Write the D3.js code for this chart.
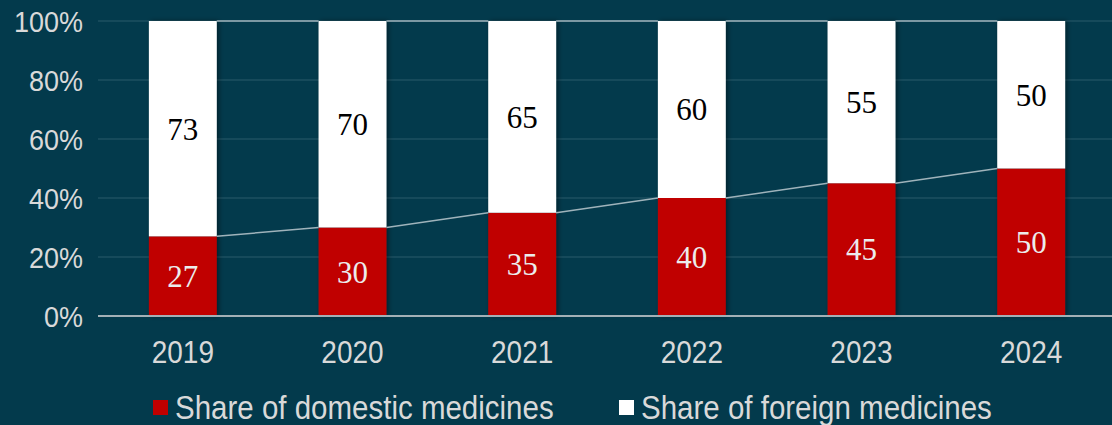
<!DOCTYPE html>
<html lang="en">
<head>
<meta charset="UTF-8">
<title>Medicines share</title>
<script src="https://d3js.org/d3.v7.min.js"></script>
<style>
  html, body { margin: 0; padding: 0; background: #033a4c; }
</style>
</head>
<body>
<div id="chart"></div>
<script>
    // data
    var years = ["2019", "2020", "2021", "2022", "2023", "2024"];
    var domestic = [27, 30, 35, 40, 45, 50];
    var foreign = [73, 70, 65, 60, 55, 50];
    var yTicks = [0, 20, 40, 60, 80, 100];
    var seriesNames = ["Share of domestic medicines", "Share of foreign medicines"];

    var W = 1112, H = 425;
    var bg = "#033a4c", red = "#c00000", textCol = "#d9d9d9";
    var sans = "'Liberation Sans', Arial, sans-serif";

    var svg = d3.select("#chart").append("svg")
        .attr("width", W).attr("height", H)
        .style("display", "block");

    svg.append("rect").attr("width", W).attr("height", H).attr("fill", bg);

    var defs = svg.append("defs");
    var f = defs.append("filter").attr("id", "shadow")
        .attr("x", "-20%").attr("y", "-5%").attr("width", "140%").attr("height", "110%");
    f.append("feDropShadow").attr("dx", 2).attr("dy", 0).attr("stdDeviation", 2.5)
        .attr("flood-color", "#000").attr("flood-opacity", 0.45);

    var x = d3.scaleBand().domain(years).range([98, 1116]).paddingInner(0.6).paddingOuter(0.3);
    var y = d3.scaleLinear().domain([0, 100]).range([316, 21]);

    // gridlines
    svg.append("g").selectAll("line").data(yTicks.filter(function(d) { return d > 0; }))
        .enter().append("line")
        .attr("x1", 98).attr("x2", W)
        .attr("y1", function(d) { return y(d); }).attr("y2", function(d) { return y(d); })
        .attr("stroke", "#2b5a6b").attr("stroke-width", 1.2);

    // y axis labels (the source font is a bit taller than Liberation Sans, hence the stretch)
    var yAxis = svg.append("g").attr("transform", "translate(83,0)")
        .call(d3.axisLeft(y).tickValues(yTicks).tickSize(0).tickPadding(0)
            .tickFormat(function(d) { return d + "%"; }));
    yAxis.select(".domain").remove();
    yAxis.selectAll("text")
        .attr("fill", textCol)
        .style("font-family", sans)
        .style("font-size", "27px")
        .attr("dy", "0.36em")
        .attr("transform", "scale(1,1.12)");

    // stacked bars
    var rows = years.map(function(yr, i) { return { year: yr, d: domestic[i], f: foreign[i] }; });
    var bars = svg.append("g").attr("filter", "url(#shadow)");
    bars.selectAll(".dom").data(rows).enter().append("rect")
        .attr("x", function(r) { return x(r.year); })
        .attr("width", x.bandwidth())
        .attr("y", function(r) { return y(r.d); })
        .attr("height", function(r) { return y(0) - y(r.d); })
        .attr("fill", red);
    bars.selectAll(".for").data(rows).enter().append("rect")
        .attr("x", function(r) { return x(r.year); })
        .attr("width", x.bandwidth())
        .attr("y", function(r) { return y(r.d + r.f); })
        .attr("height", function(r) { return y(r.d) - y(r.d + r.f); })
        .attr("fill", "#ffffff");

    // series lines between bars
    var sl = svg.append("g").attr("stroke", "#9fb3bb").attr("stroke-width", 1.5);
    for (var i = 0; i < rows.length - 1; i++) {
        var a = rows[i], b = rows[i + 1];
        sl.append("line")
            .attr("x1", x(a.year) + x.bandwidth()).attr("x2", x(b.year))
            .attr("y1", y(a.d)).attr("y2", y(b.d));
        sl.append("line")
            .attr("x1", x(a.year) + x.bandwidth()).attr("x2", x(b.year))
            .attr("y1", y(a.d + a.f)).attr("y2", y(b.d + b.f));
    }

    // baseline
    svg.append("line").attr("x1", 98).attr("x2", W)
        .attr("y1", y(0)).attr("y2", y(0))
        .attr("stroke", "#a3b0b6").attr("stroke-width", 2);

    // value labels
    var lab = svg.append("g")
        .style("font-family", "'Liberation Serif', 'Times New Roman', serif")
        .style("font-size", "31px")
        .attr("text-anchor", "middle");
    lab.selectAll(".ld").data(rows).enter().append("text")
        .attr("x", function(r) { return x(r.year) + x.bandwidth() / 2; })
        .attr("y", function(r) { return y(r.d / 2); })
        .attr("dy", "0.35em")
        .attr("fill", "#ececec")
        .text(function(r) { return r.d; });
    lab.selectAll(".lf").data(rows).enter().append("text")
        .attr("x", function(r) { return x(r.year) + x.bandwidth() / 2; })
        .attr("y", function(r) { return y(r.d + r.f / 2); })
        .attr("dy", "0.35em")
        .attr("fill", "#000")
        .text(function(r) { return r.f; });

    // x axis labels
    var xAxis = svg.append("g").attr("transform", "translate(0,352)")
        .call(d3.axisBottom(x).tickSize(0).tickPadding(0));
    xAxis.select(".domain").remove();
    xAxis.selectAll("text")
        .attr("y", 0)
        .attr("fill", textCol)
        .style("font-family", sans)
        .style("font-size", "28px")
        .attr("dy", "0.36em")
        .attr("transform", "scale(1,1.12)");

    // legend
    var legendX = [153, 619];
    var legendCol = [red, "#ffffff"];
    var lg = svg.append("g");
    seriesNames.forEach(function(name, i) {
        lg.append("rect").attr("x", legendX[i]).attr("y", 400)
            .attr("width", 15).attr("height", 15).attr("fill", legendCol[i]);
        lg.append("text")
            .attr("transform", "translate(" + (legendX[i] + 22) + ",407) scale(1,1.12)")
            .attr("dy", "0.36em")
            .attr("fill", textCol)
            .style("font-family", sans)
            .style("font-size", "29.5px")
            .text(name);
    });
</script>
</body>
</html>
